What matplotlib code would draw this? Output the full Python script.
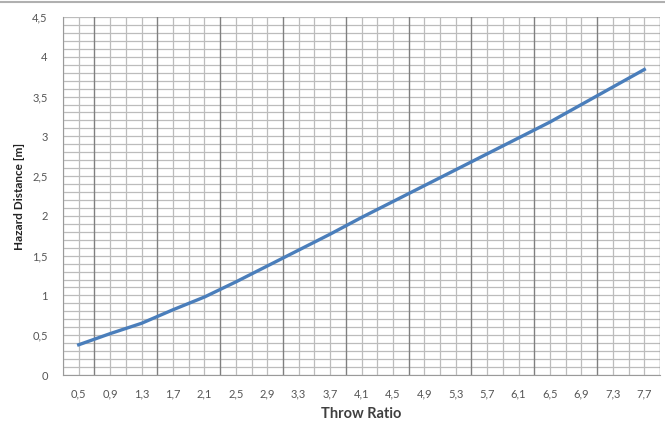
import matplotlib.pyplot as plt
import numpy as np

plt.rcParams['font.family'] = ['Lato', 'DejaVu Sans']

# Throw ratio categories and hazard distance
throw_ratio = ["0,5", "0,9", "1,3", "1,7", "2,1", "2,5", "2,9", "3,3", "3,7", "4,1",
               "4,5", "4,9", "5,3", "5,7", "6,1", "6,5", "6,9", "7,3", "7,7"]
hazard_distance = [0.38, 0.52, 0.65, 0.82, 0.98, 1.17, 1.37, 1.57, 1.77, 1.98,
                   2.18, 2.38, 2.58, 2.78, 2.98, 3.18, 3.40, 3.62, 3.84]
y_ticks = [0, 0.5, 1, 1.5, 2, 2.5, 3, 3.5, 4, 4.5]
y_labels = ["0", "0,5", "1", "1,5", "2", "2,5", "3", "3,5", "4", "4,5"]

fig = plt.figure(figsize=(6.65, 4.23), dpi=100)
ax = fig.add_axes([63/665, 1 - 375/423, 597/665, 358/423])

n = len(throw_ratio)
xpos = np.arange(n)

# horizontal grid every 0.1
for yv in np.arange(0, 4.501, 0.1):
    ax.axhline(yv, color="#bcbcbc", lw=0.9, zorder=0)
# vertical grid at every half category, darker every second boundary
for k in range(2 * n + 1):
    xv = -0.5 + k * 0.5
    if k % 4 == 2:
        ax.axvline(xv, color="#808080", lw=1.0, zorder=1)
    else:
        ax.axvline(xv, color="#bcbcbc", lw=0.9, zorder=0)

ax.plot(xpos, hazard_distance, color="#4a7ebb", lw=2.4, zorder=3)

ax.set_xlim(-0.5, n - 0.5)
ax.set_ylim(0, 4.5)
ax.set_xticks(xpos)
ax.set_xticklabels(throw_ratio, fontsize=8, color="#555555")
ax.set_yticks(y_ticks)
ax.set_yticklabels(y_labels, fontsize=8, color="#555555")
ax.tick_params(axis="x", length=0, pad=10)
ax.tick_params(axis="y", length=0, pad=11)

for side in ["top", "right"]:
    ax.spines[side].set_visible(False)
ax.spines["left"].set_color("#9a9a9a")
ax.spines["bottom"].set_color("#9a9a9a")

ax.set_xlabel("Throw Ratio", fontsize=10.5, fontweight="bold", color="#404040", labelpad=5)
ax.set_ylabel("Hazard Distance [m]", fontsize=8.5, fontweight="bold", color="#222222", labelpad=5)

# thin border at the top of the picture
fig.add_artist(plt.Line2D([0, 1], [0.995, 0.995], color="#b0b0b0", lw=1.5, transform=fig.transFigure))

plt.savefig("out.png", dpi=100)
